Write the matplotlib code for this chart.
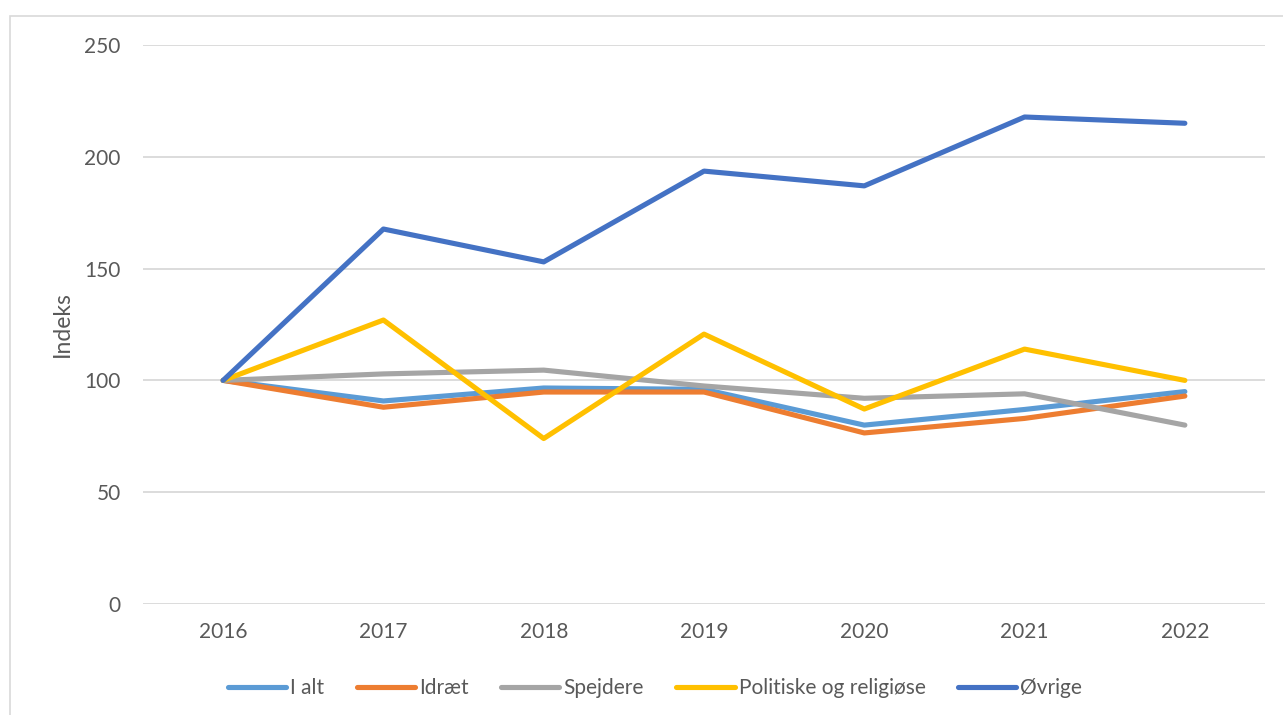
import matplotlib
matplotlib.use("Agg")
import matplotlib.pyplot as plt
from matplotlib.patches import Rectangle

years = ["2016", "2017", "2018", "2019", "2020", "2021", "2022"]
i_alt = [100, 90.8, 96.6, 96.0, 80.0, 87.0, 95.0]
idraet = [100, 88.0, 94.8, 94.8, 76.5, 83.0, 93.0]
spejdere = [100, 102.9, 104.6, 97.5, 92.0, 94.0, 80.0]
politiske = [100, 127.0, 74.0, 120.7, 87.2, 114.0, 100.0]
ovrige = [100, 167.7, 153.0, 193.6, 187.0, 217.8, 215.0]

series = [
    ("I alt", i_alt, "#5B9BD5"),
    ("Idræt", idraet, "#ED7D31"),
    ("Spejdere", spejdere, "#A5A5A5"),
    ("Politiske og religiøse", politiske, "#FFC000"),
    ("Øvrige", ovrige, "#4472C4"),
]

plt.rcParams['font.family'] = ['Lato', 'DejaVu Sans']
txt = "#595959"
W, H = 1283, 715
fig = plt.figure(figsize=(W / 100, H / 100), dpi=100)
ax = fig.add_axes([143 / W, 1 - 604 / H, (1265 - 143) / W, (604 - 45) / H])

x = list(range(len(years)))
for name, vals, col in series:
    ax.plot(x, vals, color=col, lw=3.7, label=name, solid_capstyle='round',
            solid_joinstyle='round')

ax.set_xlim(-0.5, 6.5)
ax.set_ylim(0, 250)
ax.set_yticks([0, 50, 100, 150, 200, 250])
ax.set_xticks(x)
ax.set_xticklabels(years)
ax.grid(axis='y', color='#D9D9D9', lw=1.3)
ax.set_axisbelow(True)
for s in ax.spines.values():
    s.set_visible(False)
ax.tick_params(axis='both', length=0, labelsize=15, colors=txt)
ax.tick_params(axis='y', pad=16)
ax.tick_params(axis='x', pad=13)
ax.set_ylabel("Indeks", fontsize=16.5, color=txt, labelpad=8)

leg = fig.legend(loc='center', bbox_to_anchor=(655 / W, 1 - 688 / H), ncol=5,
                 frameon=False, fontsize=15, handlelength=2.8, handletextpad=0.2,
                 columnspacing=1.55, labelcolor=txt)

fig.patches.append(Rectangle((10 / W, -0.1), 1.2, 1 - 16 / H + 0.1,
                             transform=fig.transFigure, fill=False,
                             edgecolor='#D9D9D9', lw=1.2))

fig.savefig("out.png", dpi=100)
